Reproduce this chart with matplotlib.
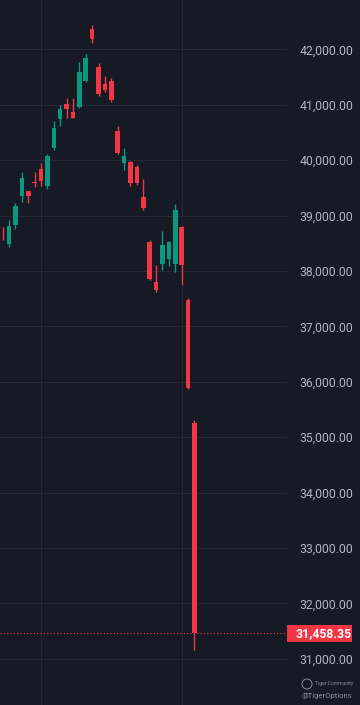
import matplotlib.pyplot as plt
from matplotlib.patches import Rectangle, Ellipse
import numpy as np

# daily candles (open, high, low, close)
opens = [38620, 38486, 38829, 39357, 39442, 39605, 39834, 39538, 40213, 40747,
         41013, 40874, 40953, 41428, 42361, 41686, 41374, 41433, 40531, 39942,
         39971, 39881, 39339, 38527, 37794, 38119, 38215, 38119, 38798, 37475,
         35260]
highs = [38798, 38919, 39231, 39791, 39442, 39791, 39942, 40110, 40706, 40995,
         41116, 41126, 41776, 41915, 42439, 41758, 41518, 41477, 40616, 40213,
         39989, 39912, 39659, 38558, 38107, 38727, 38540, 39202, 38810, 37506,
         35309]
lows = [38558, 38426, 38756, 39249, 39220, 39520, 39538, 39473, 40182, 40616,
        40755, 40755, 40935, 41410, 42108, 41166, 41235, 41054, 40110, 39821,
        39533, 39550, 39099, 37845, 37619, 38016, 38089, 37975, 37746, 35868,
        31157]
closes = [38610, 38816, 39177, 39682, 39352, 39595, 39623, 40074, 40574, 40928,
          40917, 40765, 41585, 41852, 42180, 41188, 41265, 41085, 40123, 40074,
          39581, 39592, 39135, 37858, 37650, 38468, 38527, 39099, 38107, 35881,
          31458.35]
last_price = 31458.35
price_ticks = list(range(31000, 42001, 1000))
vgrid_at = [6, 28]

bg = '#161a25'
up_col = '#089981'
down_col = '#f23645'
grid_col = '#242834'
text_col = '#b2b5be'

plt.rcParams['font.family'] = ['Roboto', 'DejaVu Sans']

fig = plt.figure(figsize=(3.6, 7.05), dpi=100, facecolor=bg)
ax = fig.add_axes([0, 0, 287 / 360, 1])
ax.set_facecolor(bg)

x = np.arange(len(opens))
o = np.array(opens)
c = np.array(closes)
cols = [up_col if cc >= oo else down_col for oo, cc in zip(o, c)]

ax.vlines(x, lows, highs, colors=cols, linewidth=1, zorder=3)
body = np.maximum(np.abs(c - o), 10)
ax.bar(x, body, bottom=np.minimum(o, c), width=0.72, color=cols, linewidth=0, zorder=4)

ax.axhline(last_price, color=down_col, linestyle=(0, (1, 2)), linewidth=0.8, zorder=2)

ax.set_xlim(-0.42, 44.49)
ax.set_ylim(30165, 42890)
ax.set_yticks(price_ticks)
ax.set_yticklabels([f'{t:,.2f}' for t in price_ticks])
ax.set_xticks(vgrid_at)
ax.xaxis.set_ticklabels([])
ax.tick_params(axis='x', length=0)
ax.yaxis.tick_right()
ax.tick_params(axis='y', length=0, pad=9, labelsize=8.8, labelcolor=text_col)
ax.grid(True, color=grid_col, linewidth=0.8)
ax.set_axisbelow(True)
for s in ax.spines.values():
    s.set_visible(False)

# last price label
fig.patches.append(Rectangle((286.5 / 360, 1 - 642 / 705), 65.5 / 360, 17 / 705,
                             transform=fig.transFigure, facecolor=down_col,
                             edgecolor='none', zorder=5))
fig.text(296 / 360, 1 - 633.5 / 705, f'{last_price:,.2f}', color='white',
         fontsize=8.8, fontweight='bold', va='center', ha='left', zorder=6)

# watermark
fig.patches.append(Ellipse((307 / 360, 1 - 684 / 705), 10 / 360, 10 / 705,
                           transform=fig.transFigure, facecolor='none',
                           edgecolor='#8a8d96', linewidth=0.7))
fig.text(315 / 360, 1 - 684 / 705, 'Tiger Community', color='#8a8d96',
         fontsize=3.6, va='center', ha='left')
fig.text(352 / 360, 1 - 696 / 705, '@TigerOptions', color='#8a8d96',
         fontsize=5.5, va='center', ha='right')

fig.savefig('out.png', dpi=100, facecolor=bg)
